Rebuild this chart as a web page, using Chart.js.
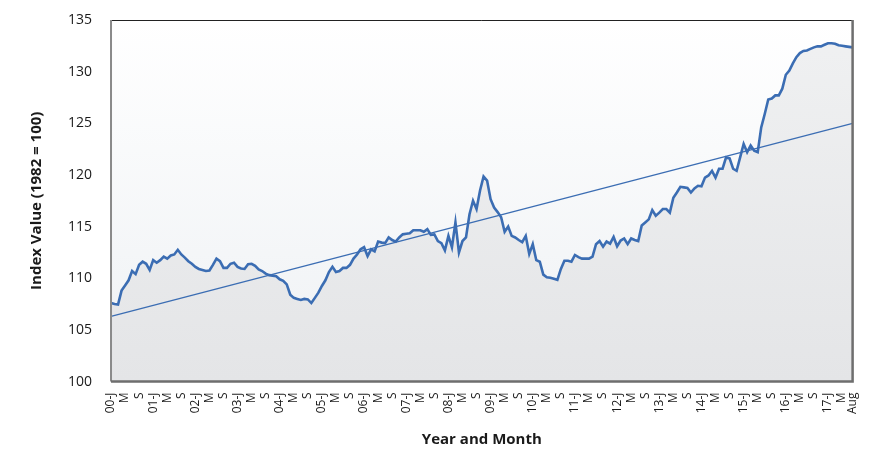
<!DOCTYPE html>
<html>
<head>
<meta charset="utf-8">
<title>Index Value (1982 = 100)</title>
<script src="https://cdn.jsdelivr.net/npm/chart.js@4.4.1/dist/chart.umd.min.js"></script>
<style>
  html, body { margin: 0; padding: 0; background: #ffffff; }
  #wrap { width: 870px; height: 462px; position: relative; }
</style>
</head>
<body>
<div id="wrap"><canvas id="indexChart"></canvas></div>
<script>
// Years covered and the month letters shown on the axis
const years = [2000, 2001, 2002, 2003, 2004, 2005, 2006, 2007, 2008,
               2009, 2010, 2011, 2012, 2013, 2014, 2015, 2016, 2017];
const lastMonth = 8; // series ends in Aug 2017
const tickLetters = { 1: 'J', 5: 'M', 9: 'S' };
const lastTickLabel = 'Aug';

// Monthly index values (1982 = 100), Jan 2000 .. Aug 2017
const indexValues = [
  107.6, 107.5, 107.45, 108.8, 109.3, 109.8, 110.7, 110.4, 111.3, 111.6, 111.4, 110.8,   // 2000
  111.75, 111.5, 111.75, 112.1, 111.9, 112.2, 112.3, 112.75, 112.3, 112.0, 111.65, 111.4, // 2001
  111.1, 110.9, 110.8, 110.7, 110.75, 111.3, 111.9, 111.65, 111.0, 111.0, 111.4, 111.5,   // 2002
  111.1, 110.95, 110.9, 111.35, 111.4, 111.2, 110.85, 110.7, 110.45, 110.3, 110.25, 110.2, // 2003
  109.9, 109.75, 109.4, 108.4, 108.1, 108.0, 107.9, 108.0, 107.95, 107.6, 108.1, 108.6,   // 2004
  109.25, 109.8, 110.6, 111.1, 110.6, 110.7, 111.0, 111.0, 111.3, 111.9, 112.3, 112.8,    // 2005
  113.0, 112.15, 112.8, 112.6, 113.55, 113.45, 113.4, 113.95, 113.7, 113.55, 113.95, 114.25, // 2006
  114.3, 114.35, 114.65, 114.65, 114.65, 114.5, 114.75, 114.2, 114.25, 113.6, 113.4, 112.7, // 2007
  114.1, 113.0, 115.4, 112.5, 113.6, 113.95, 116.2, 117.5, 116.7, 118.5, 119.85, 119.45,  // 2008
  117.65, 116.85, 116.4, 115.9, 114.5, 115.0, 114.1, 113.95, 113.7, 113.5, 114.1, 112.35, // 2009
  113.3, 111.75, 111.6, 110.35, 110.1, 110.05, 109.95, 109.85, 110.9, 111.7, 111.7, 111.6, // 2010
  112.25, 112.05, 111.9, 111.9, 111.9, 112.1, 113.3, 113.6, 113.05, 113.55, 113.35, 114.0, // 2011
  113.1, 113.65, 113.85, 113.3, 113.85, 113.7, 113.6, 115.1, 115.4, 115.7, 116.6, 116.05, // 2012
  116.35, 116.7, 116.7, 116.35, 117.8, 118.3, 118.85, 118.8, 118.75, 118.3, 118.7, 118.95, // 2013
  118.9, 119.75, 119.95, 120.4, 119.75, 120.6, 120.6, 121.7, 121.6, 120.6, 120.4, 121.7,  // 2014
  123.0, 122.2, 122.85, 122.35, 122.2, 124.6, 125.9, 127.3, 127.4, 127.7, 127.7, 128.35,  // 2015
  129.7, 130.1, 130.8, 131.4, 131.8, 132.0, 132.05, 132.2, 132.35, 132.45, 132.45, 132.6, // 2016
  132.75, 132.75, 132.7, 132.55, 132.5, 132.45, 132.4, 132.35                              // 2017
];

// Linear trend, start and end values
const trendStart = 106.3;
const trendEnd = 125.0;

// y axis
const yMin = 100, yMax = 135, yStep = 5;

// Build the monthly categories
const monthLabels = [];
years.forEach(y => {
  const lim = (y === years[years.length - 1]) ? lastMonth : 12;
  for (let m = 1; m <= lim; m++) {
    monthLabels.push({ year: y, month: m });
  }
});
const categories = monthLabels.map(d => d.year + '-' + String(d.month).padStart(2, '0'));

function tickText(i) {
  if (i === monthLabels.length - 1) return lastTickLabel;
  const d = monthLabels[i];
  const letter = tickLetters[d.month];
  if (!letter) return '';
  if (d.month === 1) return String(d.year % 100).padStart(2, '0') + '-' + letter;
  return letter;
}

const FONT = "'Open Sans', 'Lato', sans-serif";
const LINE_BLUE = '#3b6db3';

// plot background + frame
const plotFrame = {
  id: 'plotFrame',
  beforeDatasetsDraw(chart) {
    const { ctx, chartArea: a } = chart;
    const g = ctx.createLinearGradient(0, a.top, 0, a.bottom);
    g.addColorStop(0, '#ffffff');
    g.addColorStop(1, '#eef1f4');
    ctx.save();
    ctx.fillStyle = g;
    ctx.fillRect(a.left, a.top, a.right - a.left, a.bottom - a.top);
    ctx.restore();
  },
  afterDatasetsDraw(chart) {
    const { ctx, chartArea: a } = chart;
    ctx.save();
    // top
    ctx.strokeStyle = '#222';
    ctx.lineWidth = 1;
    ctx.beginPath(); ctx.moveTo(a.left, a.top + 0.5); ctx.lineTo(a.right, a.top + 0.5); ctx.stroke();
    // left
    ctx.strokeStyle = '#8a8a8a';
    ctx.lineWidth = 2;
    ctx.beginPath(); ctx.moveTo(a.left, a.top); ctx.lineTo(a.left, a.bottom); ctx.stroke();
    // bottom + right (shadowed edge)
    ctx.strokeStyle = '#6e6e6e';
    ctx.lineWidth = 2.5;
    ctx.beginPath(); ctx.moveTo(a.left, a.bottom); ctx.lineTo(a.right, a.bottom); ctx.lineTo(a.right, a.top); ctx.stroke();
    ctx.restore();
  }
};

new Chart(document.getElementById('indexChart'), {
  type: 'line',
  data: {
    labels: categories,
    datasets: [
      {
        label: 'Index Value',
        data: indexValues,
        borderColor: LINE_BLUE,
        borderWidth: 2.6,
        pointRadius: 0,
        tension: 0,
        fill: 'start',
        backgroundColor: (context) => {
          const a = context.chart.chartArea;
          if (!a) return '#e9eaec';
          const g = context.chart.ctx.createLinearGradient(0, a.top, 0, a.bottom);
          g.addColorStop(0, '#f0f1f2');
          g.addColorStop(1, '#e4e5e7');
          return g;
        },
        order: 2
      },
      {
        label: 'Trend',
        data: [
          { x: categories[0], y: trendStart },
          { x: categories[categories.length - 1], y: trendEnd }
        ],
        borderColor: LINE_BLUE,
        borderWidth: 1.3,
        pointRadius: 0,
        fill: false,
        order: 1
      }
    ]
  },
  options: {
    responsive: true,
    maintainAspectRatio: false,
    animation: false,
    layout: { padding: { left: 28, right: 17, top: 20, bottom: 13 } },
    plugins: {
      legend: { display: false },
      tooltip: { enabled: false }
    },
    scales: {
      x: {
        type: 'category',
        offset: false,
        grid: { display: false },
        border: { display: false },
        ticks: {
          autoSkip: false,
          maxRotation: 90,
          minRotation: 90,
          padding: 3,
          color: '#1a1a1a',
          font: { family: FONT, size: 12 },
          callback: (val, i) => tickText(i)
        },
        title: {
          display: true,
          text: 'Year and Month',
          color: '#1a1a1a',
          font: { family: FONT, size: 15, weight: 'bold' },
          padding: { top: 14, bottom: 0 }
        }
      },
      y: {
        min: yMin,
        max: yMax,
        grid: { display: false },
        border: { display: false },
        ticks: {
          stepSize: yStep,
          padding: 11,
          color: '#1a1a1a',
          font: { family: FONT, size: 14 }
        },
        title: {
          display: true,
          text: 'Index Value (1982 = 100)',
          color: '#1a1a1a',
          font: { family: FONT, size: 15, weight: 'bold' },
          padding: { top: 0, bottom: 11 }
        }
      }
    }
  },
  plugins: [plotFrame]
});
</script>
</body>
</html>
